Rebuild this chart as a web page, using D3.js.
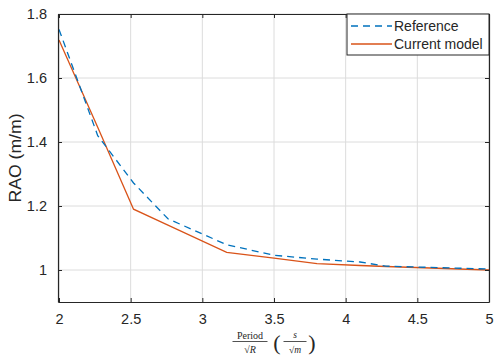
<!DOCTYPE html>
<html>
<head>
<meta charset="utf-8">
<script src="https://cdn.jsdelivr.net/npm/d3@7"></script>
<style>
  body { margin: 0; background: #fff; }
  svg { display: block; }
  text { font-family: "Liberation Sans", Arial, sans-serif; }
</style>
</head>
<body>
<script>
// data
var periods = [2, 2.27, 2.52, 2.76, 3.17, 3.5, 3.8, 4.1, 4.28, 5];
var refRAO = [1.752, 1.42, 1.272, 1.16, 1.079, 1.046, 1.034, 1.025, 1.012, 1.003];
var curRAO = [1.719, 1.446, 1.19, 1.14, 1.055, 1.037, 1.02, 1.014, 1.011, 1.0];
var xTicks = [2, 2.5, 3, 3.5, 4, 4.5, 5];
var yTicks = [1, 1.2, 1.4, 1.6, 1.8];
var seriesNames = ["Reference", "Current model"];

var W = 502, H = 363;
// plot box (note: "top" is reserved on window, so use pl/pr/pt/pb)
var pl = 58, pr = 489, pt = 14, pb = 302;

var svg = d3.select("body").append("svg")
            .attr("width", W)
            .attr("height", H);

var x = d3.scaleLinear().domain([1.993, 5]).range([pl, pr]);
var y = d3.scaleLinear().domain([0.9, 1.8]).range([pb, pt]);

// grid
var grid = svg.append("g");
grid.selectAll("line.gx").data(xTicks).enter().append("line")
    .attr("x1", function(d){ return x(d); })
    .attr("x2", function(d){ return x(d); })
    .attr("y1", pt).attr("y2", pb)
    .style("stroke", "#dcdcdc").style("stroke-width", 1);
grid.selectAll("line.gy").data(yTicks).enter().append("line")
    .attr("y1", function(d){ return y(d); })
    .attr("y2", function(d){ return y(d); })
    .attr("x1", pl).attr("x2", pr)
    .style("stroke", "#dcdcdc").style("stroke-width", 1);

// lines
var lineGen = d3.line()
    .x(function(d, i){ return x(periods[i]); })
    .y(function(d){ return y(d); });

svg.append("path").datum(curRAO)
   .attr("d", lineGen)
   .style("fill", "none")
   .style("stroke", "#D95319")
   .style("stroke-width", 1.3);

svg.append("path").datum(refRAO)
   .attr("d", lineGen)
   .style("fill", "none")
   .style("stroke", "#0072BD")
   .style("stroke-width", 1.3)
   .style("stroke-dasharray", "7,5");

// axes (ticks inward, box all round)
var axisColor = "#262626";
var xAxis = d3.axisBottom(x).tickValues(xTicks).tickSizeInner(-4).tickSizeOuter(0)
              .tickPadding(12).tickFormat(d3.format("~g"));
var yAxis = d3.axisLeft(y).tickValues(yTicks).tickSizeInner(-4).tickSizeOuter(0)
              .tickPadding(11).tickFormat(d3.format("~g"));

var gx = svg.append("g").attr("transform", "translate(0," + pb + ")").call(xAxis);
var gy = svg.append("g").attr("transform", "translate(" + pl + ",0)").call(yAxis);
var gxTop = svg.append("g").attr("transform", "translate(0," + pt + ")")
               .call(d3.axisTop(x).tickValues(xTicks).tickSizeInner(-4).tickSizeOuter(0).tickFormat(""));
var gyRight = svg.append("g").attr("transform", "translate(" + pr + ",0)")
               .call(d3.axisRight(y).tickValues(yTicks).tickSizeInner(-4).tickSizeOuter(0).tickFormat(""));

[gx, gy, gxTop, gyRight].forEach(function(g){
  g.select(".domain").style("stroke", axisColor).style("stroke-width", 1.2);
  g.selectAll(".tick line").style("stroke", axisColor);
  g.selectAll(".tick text").style("fill", "#262626")
   .style("font-size", "14.5px")
   .style("font-family", "'Liberation Sans', Arial, sans-serif");
});

// y label
svg.append("text")
   .attr("transform", "translate(21," + ((pt + pb) / 2) + ") rotate(-90)")
   .attr("text-anchor", "middle")
   .attr("textLength", 89)
   .attr("lengthAdjust", "spacingAndGlyphs")
   .style("font-size", "16px")
   .style("fill", "#262626")
   .text("RAO (m/m)");

// x label: Period / sqrt(R) (s / sqrt(m))
var xl = svg.append("g")
            .attr("transform", "translate(" + ((pl + pr) / 2) + ",0)")
            .style("fill", "#262626");
xl.append("text").attr("x", -23.5).attr("y", 339).attr("text-anchor", "middle")
  .style("font-size", "10px").style("font-family", "'Liberation Serif', serif").text("Period");
xl.append("line").attr("x1", -41).attr("x2", -6).attr("y1", 341.5).attr("y2", 341.5)
  .style("stroke", "#262626").style("stroke-width", 0.8);
xl.append("text").attr("x", -23.5).attr("y", 353).attr("text-anchor", "middle")
  .style("font-size", "10px").style("font-family", "'Liberation Serif', serif")
  .html("&#8730;<tspan font-style='italic'>R</tspan>");
xl.append("text").attr("x", 3.5).attr("y", 350).attr("text-anchor", "middle")
  .style("font-size", "22px")
  .style("font-family", "'Liberation Serif', serif").text("(");
xl.append("text").attr("x", 21.5).attr("y", 338).attr("text-anchor", "middle")
  .style("font-size", "9.5px").style("font-style", "italic")
  .style("font-family", "'Liberation Serif', serif").text("s");
xl.append("line").attr("x1", 10).attr("x2", 33).attr("y1", 341.5).attr("y2", 341.5)
  .style("stroke", "#262626").style("stroke-width", 0.8);
xl.append("text").attr("x", 21.5).attr("y", 352.5).attr("text-anchor", "middle")
  .style("font-size", "9.5px").style("font-family", "'Liberation Serif', serif")
  .html("&#8730;<tspan font-style='italic'>m</tspan>");
xl.append("text").attr("x", 38.5).attr("y", 350).attr("text-anchor", "middle")
  .style("font-size", "22px")
  .style("font-family", "'Liberation Serif', serif").text(")");

// legend
var leg = svg.append("g");
leg.append("rect")
   .attr("x", 347).attr("y", pt).attr("width", pr - 347).attr("height", 41)
   .style("fill", "#fff").style("stroke", axisColor).style("stroke-width", 1);
var legColors = ["#0072BD", "#D95319"];
var legDash = ["7,5", null];
seriesNames.forEach(function(name, i){
  var ly = 26 + i * 18;
  leg.append("line")
     .attr("x1", 351).attr("x2", 392).attr("y1", ly).attr("y2", ly)
     .style("stroke", legColors[i]).style("stroke-width", 1.3)
     .style("stroke-dasharray", legDash[i]);
  leg.append("text")
     .attr("x", 394).attr("y", ly + 5)
     .style("font-size", "14px").style("fill", "#262626")
     .text(name);
});
</script>
</body>
</html>
